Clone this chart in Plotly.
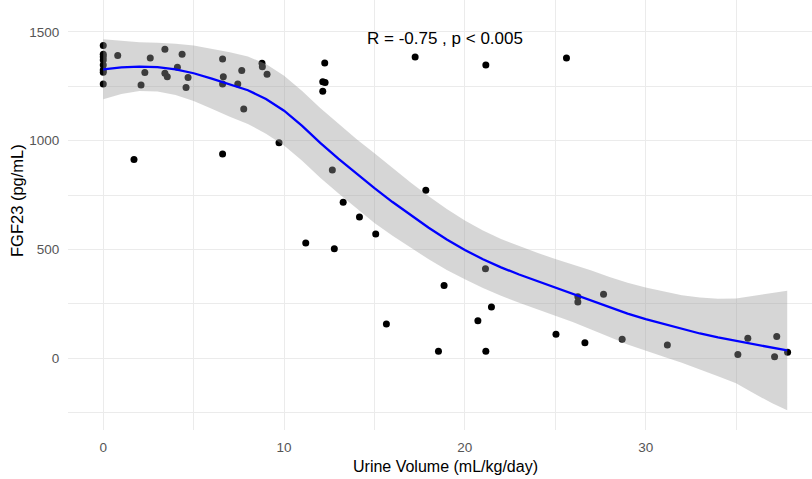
import plotly.graph_objects as go

# observed points (Urine Volume mL/kg/day, FGF23 pg/mL)
urine_volume = [0, 0, 0, 0, 0, 0, 0, 0,
                0.8, 1.7, 2.09, 2.3, 2.6, 3.41, 3.41, 3.54, 4.1, 4.36, 4.69, 4.58,
                6.6, 6.64, 6.6, 6.6, 7.44, 7.66, 7.77, 8.78, 8.8, 9.06, 9.72,
                12.25, 12.14, 12.27, 12.14, 12.67, 17.25, 21.16, 25.62, 17.84,
                13.27, 14.17, 15.07, 11.2, 12.78, 21.14, 18.85, 21.47, 20.72, 15.66,
                18.54, 21.16, 25.04, 26.64, 26.25, 26.25, 27.67, 28.7, 31.2,
                35.1, 35.65, 37.25, 37.13, 37.85]
fgf23 = [1437, 1397, 1386, 1371, 1348, 1325, 1314, 1260,
         1391, 914, 1256, 1313, 1380, 1420, 1310, 1294, 1337, 1397, 1290, 1245,
         1375, 1294, 1260, 939, 1260, 1323, 1146, 1356, 1340, 1305, 991,
         1357, 1271, 1267, 1227, 865, 1385, 1348, 1380, 772,
         717, 649, 571, 530, 504, 412, 335, 236, 173, 158,
         32, 32, 110, 72, 283, 259, 294, 87, 61,
         18, 92, 100, 7, 28]

# loess smooth with confidence band
smooth_x = [0, 1, 2, 3, 4, 5, 6, 7, 8, 9, 10, 11, 12, 13, 14, 15, 16, 17, 18, 19,
            20, 21, 22, 23, 24, 25, 26, 27, 28, 29, 30, 31, 32, 33, 34, 35, 36, 37, 37.83]
smooth_fit = [1328, 1337, 1340, 1338, 1328, 1310, 1285, 1258, 1232, 1192, 1138, 1068, 990,
              918, 848, 782, 718, 658, 600, 546, 498, 455, 418, 385, 355, 326, 298, 268,
              236, 205, 180, 157, 135, 114, 96, 80, 63, 48, 36]
smooth_upper = [1466, 1459, 1452, 1450, 1446, 1438, 1423, 1406, 1387, 1352, 1298, 1228, 1150,
                1078, 1008, 942, 873, 808, 745, 686, 633, 587, 548, 515, 485, 456, 430, 403,
                374, 347, 325, 307, 290, 279, 274, 275, 288, 303, 311]
smooth_lower = [1190, 1215, 1228, 1226, 1210, 1182, 1147, 1110, 1077, 1032, 978, 908, 830,
                758, 688, 622, 563, 508, 455, 406, 363, 323, 288, 255, 225, 196, 166, 133,
                98, 63, 35, 7, -20, -51, -82, -115, -162, -207, -239]

x_ticks = [0, 10, 20, 30]
y_ticks = [0, 500, 1000, 1500]
cor_label = "R = -0.75 , p < 0.005"
x_title = "Urine Volume (mL/kg/day)"
y_title = "FGF23 (pg/mL)"

FONT = "Liberation Sans, Arial, sans-serif"
GRID = "#EBEBEB"

fig = go.Figure()
fig.add_trace(go.Scatter(
    x=urine_volume, y=fgf23, mode="markers",
    marker=dict(color="black", size=7, line=dict(width=0)),
    showlegend=False, hoverinfo="x+y"))
fig.add_trace(go.Scatter(
    x=smooth_x + smooth_x[::-1], y=smooth_upper + smooth_lower[::-1],
    fill="toself", fillcolor="rgba(153,153,153,0.4)", mode="lines",
    line=dict(width=0), showlegend=False, hoverinfo="skip"))
fig.add_trace(go.Scatter(
    x=smooth_x, y=smooth_fit, mode="lines",
    line=dict(color="blue", width=2.3), showlegend=False))

fig.add_annotation(x=18.9, y=1471, text=cor_label, showarrow=False,
                   font=dict(family=FONT, size=17, color="black"),
                   xanchor="center", yanchor="middle")
fig.add_annotation(xref="paper", yref="paper", x=0.508, y=-0.086, text=x_title,
                   showarrow=False, xanchor="center", yanchor="middle",
                   font=dict(family=FONT, size=16, color="black"))
fig.add_annotation(xref="paper", yref="paper", x=-0.0685, y=0.5326, text=y_title,
                   showarrow=False, xanchor="center", yanchor="middle", textangle=-90,
                   font=dict(family=FONT, size=16.5, color="black"))

fig.update_layout(
    width=812, height=479,
    margin=dict(l=68, r=0, t=0, b=49, autoexpand=False),
    paper_bgcolor="white", plot_bgcolor="white",
    font=dict(family=FONT),
    xaxis=dict(range=[-1.95, 39.2], tickvals=x_ticks, ticktext=[str(v) for v in x_ticks],
               automargin=False,
               showgrid=True, gridcolor=GRID, gridwidth=1.1, zeroline=False,
               showline=False, ticks="outside", ticklen=5, tickcolor="rgba(0,0,0,0)",
               tickfont=dict(size=13.5, color="#555555"),
               minor=dict(tickvals=[5, 15, 25, 35], showgrid=True, gridcolor=GRID, gridwidth=0.8)),
    yaxis=dict(range=[-329.5, 1646.6], tickvals=y_ticks, ticktext=[str(v) for v in y_ticks],
               automargin=False,
               showgrid=True, gridcolor=GRID, gridwidth=1.1, zeroline=False,
               showline=False, ticks="outside", ticklen=5, tickcolor="rgba(0,0,0,0)",
               tickfont=dict(size=13.5, color="#555555"),
               minor=dict(tickvals=[-250, 250, 750, 1250], showgrid=True, gridcolor=GRID, gridwidth=0.8)),
)

fig.write_html("out.html", config={"displayModeBar": False},
               post_script="document.body.style.margin='0';document.body.style.overflow='hidden';")
